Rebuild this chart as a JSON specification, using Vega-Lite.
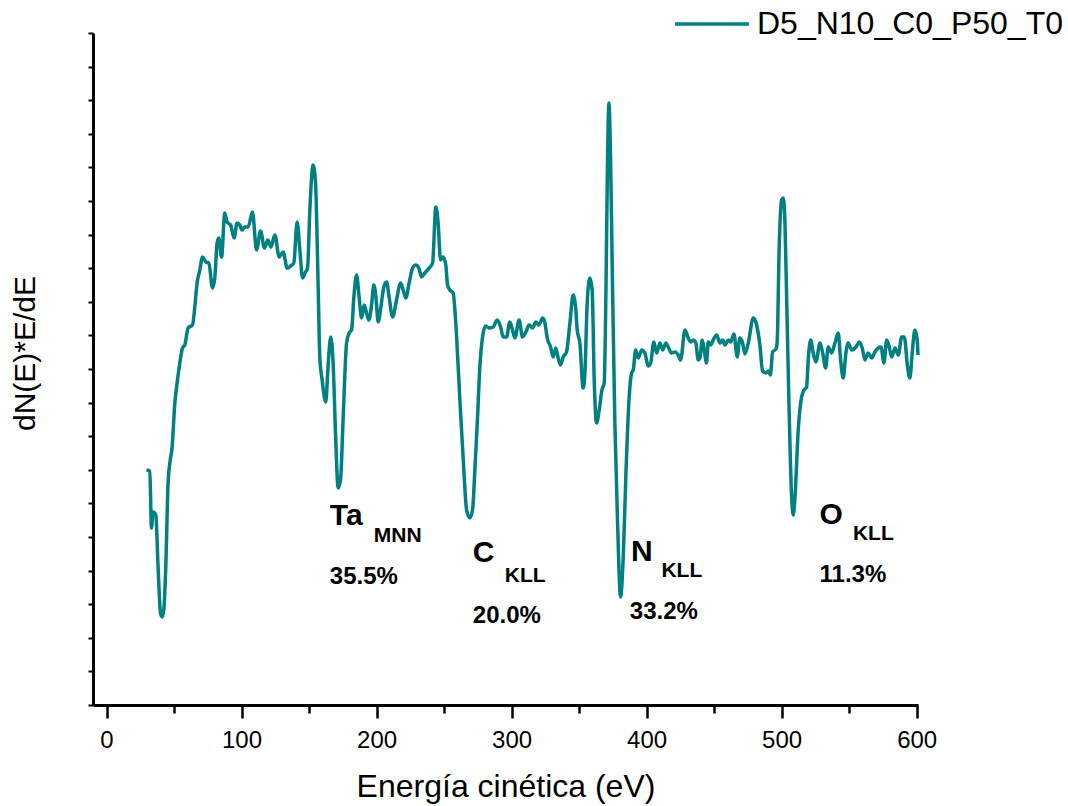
{
"$schema":"https://vega.github.io/schema/vega-lite/v6.json",
"width":825,"height":672,
"autosize":{"type":"none"},
"padding":{"left":93,"top":33,"right":150,"bottom":101},
"background":"white",
"config":{"view":{"stroke":null},"font":"Liberation Sans"},
"datasets":{
"curve":[{"e":29.6,"v":235},{"e":32.1,"v":234},{"e":33.3,"v":177},{"e":34.5,"v":193},{"e":36.5,"v":190},{"e":38.2,"v":138},{"e":40.0,"v":92},{"e":41.2,"v":88},{"e":42.4,"v":95},{"e":43.9,"v":138},{"e":45.6,"v":222},{"e":46.9,"v":242},{"e":48.6,"v":258},{"e":50.6,"v":302},{"e":52.3,"v":322},{"e":54.3,"v":342},{"e":56.3,"v":357},{"e":58.0,"v":360},{"e":60.4,"v":377},{"e":63.7,"v":380},{"e":65.4,"v":398},{"e":67.1,"v":422},{"e":69.1,"v":435},{"e":71.1,"v":448},{"e":73.6,"v":443},{"e":75.8,"v":442},{"e":78.5,"v":417},{"e":80.2,"v":427},{"e":81.9,"v":462},{"e":83.2,"v":467},{"e":85.2,"v":448},{"e":87.6,"v":492},{"e":89.3,"v":483},{"e":91.9,"v":480},{"e":94.5,"v":467},{"e":96.7,"v":482},{"e":98.7,"v":480},{"e":100.4,"v":475},{"e":102.4,"v":478},{"e":104.9,"v":478},{"e":108.1,"v":493},{"e":111.1,"v":455},{"e":114.1,"v":474},{"e":117.0,"v":457},{"e":119.5,"v":465},{"e":121.7,"v":458},{"e":124.7,"v":470},{"e":127.9,"v":448},{"e":130.8,"v":453},{"e":133.8,"v":437},{"e":136.3,"v":439},{"e":138.7,"v":442},{"e":141.2,"v":483},{"e":143.2,"v":455},{"e":145.2,"v":427},{"e":147.4,"v":433},{"e":148.9,"v":437},{"e":150.6,"v":495},{"e":153.0,"v":540},{"e":154.8,"v":522},{"e":156.7,"v":422},{"e":158.0,"v":347},{"e":159.7,"v":325},{"e":162.4,"v":303},{"e":164.1,"v":339},{"e":166.1,"v":368},{"e":167.9,"v":340},{"e":169.6,"v":272},{"e":171.6,"v":217},{"e":173.3,"v":225},{"e":175.3,"v":288},{"e":177.8,"v":362},{"e":179.7,"v":372},{"e":181.5,"v":375},{"e":183.2,"v":408},{"e":185.2,"v":430},{"e":187.1,"v":408},{"e":188.9,"v":387},{"e":190.8,"v":400},{"e":192.6,"v":392},{"e":194.3,"v":385},{"e":196.3,"v":400},{"e":198.0,"v":420},{"e":199.5,"v":408},{"e":201.2,"v":383},{"e":203.2,"v":398},{"e":205.4,"v":418},{"e":207.4,"v":423},{"e":209.3,"v":408},{"e":211.9,"v":388},{"e":214.8,"v":405},{"e":217.8,"v":422},{"e":219.7,"v":415},{"e":221.7,"v":407},{"e":224.1,"v":422},{"e":226.7,"v":437},{"e":229.1,"v":440},{"e":231.3,"v":437},{"e":233.3,"v":428},{"e":235.8,"v":432},{"e":239.0,"v":437},{"e":241.5,"v":442},{"e":243.9,"v":498},{"e":245.6,"v":482},{"e":247.4,"v":445},{"e":249.3,"v":448},{"e":251.3,"v":440},{"e":252.6,"v":420},{"e":254.3,"v":415},{"e":256.7,"v":412},{"e":259.3,"v":368},{"e":261.7,"v":305},{"e":264.1,"v":248},{"e":266.7,"v":195},{"e":269.1,"v":187},{"e":271.1,"v":195},{"e":272.8,"v":235},{"e":274.8,"v":288},{"e":276.5,"v":338},{"e":278.5,"v":368},{"e":280.7,"v":379},{"e":283.4,"v":377},{"e":286.4,"v":378},{"e":289.3,"v":385},{"e":291.9,"v":378},{"e":293.8,"v":368},{"e":296.3,"v":368},{"e":298.7,"v":383},{"e":300.7,"v":375},{"e":302.4,"v":367},{"e":305.6,"v":385},{"e":308.1,"v":368},{"e":310.6,"v":373},{"e":313.0,"v":380},{"e":315.6,"v":377},{"e":318.0,"v":383},{"e":320.2,"v":380},{"e":323.0,"v":387},{"e":324.7,"v":382},{"e":326.4,"v":367},{"e":328.9,"v":358},{"e":330.8,"v":348},{"e":332.8,"v":357},{"e":334.5,"v":347},{"e":336.3,"v":340},{"e":338.2,"v":348},{"e":340.7,"v":353},{"e":343.2,"v":382},{"e":345.6,"v":410},{"e":347.6,"v":395},{"e":348.6,"v":375},{"e":350.6,"v":362},{"e":353.0,"v":317},{"e":354.3,"v":332},{"e":356.0,"v":402},{"e":358.0,"v":427},{"e":359.7,"v":415},{"e":361.2,"v":325},{"e":363.0,"v":282},{"e":364.9,"v":295},{"e":366.9,"v":315},{"e":368.6,"v":322},{"e":369.9,"v":415},{"e":371.1,"v":548},{"e":372.1,"v":602},{"e":373.3,"v":548},{"e":374.8,"v":415},{"e":376.5,"v":282},{"e":378.5,"v":182},{"e":380.7,"v":108},{"e":382.7,"v":148},{"e":384.7,"v":232},{"e":387.1,"v":308},{"e":388.9,"v":332},{"e":390.1,"v":335},{"e":391.9,"v":355},{"e":393.8,"v":347},{"e":396.4,"v":355},{"e":398.7,"v":352},{"e":401.2,"v":339},{"e":403.0,"v":342},{"e":405.4,"v":363},{"e":407.4,"v":352},{"e":409.9,"v":362},{"e":411.9,"v":355},{"e":414.3,"v":362},{"e":416.0,"v":358},{"e":418.5,"v":352},{"e":421.0,"v":353},{"e":423.4,"v":350},{"e":425.2,"v":345},{"e":428.4,"v":375},{"e":430.8,"v":367},{"e":432.8,"v":363},{"e":434.5,"v":365},{"e":436.5,"v":362},{"e":438.2,"v":345},{"e":439.5,"v":347},{"e":441.2,"v":365},{"e":442.7,"v":355},{"e":444.4,"v":342},{"e":445.6,"v":363},{"e":447.4,"v":360},{"e":449.3,"v":365},{"e":451.9,"v":370},{"e":454.3,"v":362},{"e":456.3,"v":365},{"e":458.0,"v":360},{"e":460.5,"v":365},{"e":462.2,"v":363},{"e":464.7,"v":371},{"e":467.1,"v":348},{"e":469.1,"v":367},{"e":471.1,"v":362},{"e":472.8,"v":351},{"e":475.3,"v":362},{"e":479.0,"v":387},{"e":481.5,"v":380},{"e":483.9,"v":360},{"e":485.9,"v":334},{"e":488.4,"v":332},{"e":490.1,"v":334},{"e":491.7,"v":330},{"e":493.3,"v":353},{"e":495.8,"v":356},{"e":496.7,"v":363},{"e":498.2,"v":458},{"e":500.0,"v":505},{"e":501.2,"v":507},{"e":502.4,"v":485},{"e":503.7,"v":408},{"e":505.6,"v":292},{"e":507.4,"v":208},{"e":508.6,"v":190},{"e":509.9,"v":208},{"e":512.3,"v":275},{"e":514.8,"v":308},{"e":516.7,"v":315},{"e":518.5,"v":318},{"e":519.7,"v":345},{"e":521.5,"v":365},{"e":523.4,"v":352},{"e":525.4,"v":343},{"e":528.4,"v":362},{"e":530.4,"v":352},{"e":532.6,"v":337},{"e":534.5,"v":358},{"e":537.0,"v":352},{"e":539.5,"v":362},{"e":541.9,"v":372},{"e":543.7,"v":345},{"e":545.6,"v":327},{"e":547.6,"v":352},{"e":549.3,"v":362},{"e":551.9,"v":355},{"e":555.0,"v":358},{"e":557.5,"v":363},{"e":559.7,"v":357},{"e":561.7,"v":345},{"e":564.1,"v":352},{"e":566.7,"v":347},{"e":569.1,"v":353},{"e":571.6,"v":357},{"e":573.6,"v":358},{"e":575.8,"v":342},{"e":577.8,"v":365},{"e":579.7,"v":358},{"e":581.5,"v":348},{"e":584.0,"v":357},{"e":586.4,"v":350},{"e":588.9,"v":368},{"e":590.8,"v":368},{"e":593.3,"v":338},{"e":595.0,"v":327},{"e":596.7,"v":352},{"e":598.7,"v":375},{"e":600.4,"v":365},{"e":601.0,"v":350}],
"labels":[
{"e":165.4,"v":180,"t":"Ta","role":"el"},
{"e":198.0,"v":163,"t":"MNN","role":"sub"},
{"e":165.4,"v":121,"t":"35.5%","role":"pct"},
{"e":271.3,"v":143,"t":"C","role":"el"},
{"e":295.0,"v":123,"t":"KLL","role":"sub"},
{"e":271.3,"v":82,"t":"20.0%","role":"pct"},
{"e":388.4,"v":144,"t":"N","role":"el"},
{"e":411.0,"v":128,"t":"KLL","role":"sub"},
{"e":387.6,"v":86,"t":"33.2%","role":"pct"},
{"e":528.1,"v":181,"t":"O","role":"el"},
{"e":552.8,"v":165,"t":"KLL","role":"sub"},
{"e":528.1,"v":123,"t":"11.3%","role":"pct"}
]
},
"layer":[
{
"data":{"name":"curve"},
"mark":{"type":"line","interpolate":"monotone","strokeWidth":3.5},
"encoding":{
"x":{"field":"e","type":"quantitative","scale":{"domain":[-10,601],"nice":false,"zero":false},
"axis":{"values":[0,50,100,150,200,250,300,350,400,450,500,550,600],"tickCount":30,"grid":false,"tickSize":{"condition":{"test":"datum.value % 100 === 0","value":13},"value":8},"tickWidth":2.5,"tickColor":"black","domainColor":"black","domainWidth":3,"labelExpr":"datum.value % 100 === 0 ? datum.label : ''","labelFontSize":24,"labelColor":"black","labelPadding":10,"title":"Energía cinética (eV)","titleFontSize":32,"titleFontWeight":"normal","titleColor":"black","titlePadding":19}},
"y":{"field":"v","type":"quantitative","scale":{"domain":[0,672],"nice":false,"zero":false},
"axis":{"values":[0,33.6,67.2,100.8,134.4,168,201.6,235.2,268.8,302.4,336,369.6,403.2,436.8,470.4,504,537.6,571.2,604.8,638.4,672],"tickCount":30,"grid":false,"labels":false,"tickSize":5,"tickWidth":2,"tickColor":"black","domainColor":"black","domainWidth":3,"title":"dN(E)*E/dE","titleFontSize":30,"titleFontWeight":"normal","titleColor":"black","titlePadding":47,"titleY":320}},
"color":{"datum":"D5_N10_C0_P50_T0","type":"nominal","scale":{"range":["#008080"]},
"legend":{"orient":"none","legendX":580,"legendY":-48,"title":null,"symbolType":"stroke","symbolSize":5476,"symbolStrokeWidth":3.5,"labelFontSize":32,"labelColor":"black","labelOffset":6,"labelLimit":500,"padding":0}}
}
},
{
"data":{"name":"labels"},
"transform":[{"filter":"datum.role === 'el'"}],
"mark":{"type":"text","align":"left","baseline":"alphabetic","fontSize":30,"fontWeight":"bold","color":"black"},
"encoding":{
"x":{"field":"e","type":"quantitative"},
"y":{"field":"v","type":"quantitative"},
"text":{"field":"t"}
}
},
{
"data":{"name":"labels"},
"transform":[{"filter":"datum.role === 'sub'"}],
"mark":{"type":"text","align":"left","baseline":"alphabetic","fontSize":21,"fontWeight":"bold","color":"black"},
"encoding":{
"x":{"field":"e","type":"quantitative"},
"y":{"field":"v","type":"quantitative"},
"text":{"field":"t"}
}
},
{
"data":{"name":"labels"},
"transform":[{"filter":"datum.role === 'pct'"}],
"mark":{"type":"text","align":"left","baseline":"alphabetic","fontSize":24,"fontWeight":"bold","color":"black"},
"encoding":{
"x":{"field":"e","type":"quantitative"},
"y":{"field":"v","type":"quantitative"},
"text":{"field":"t"}
}
}
]
}
